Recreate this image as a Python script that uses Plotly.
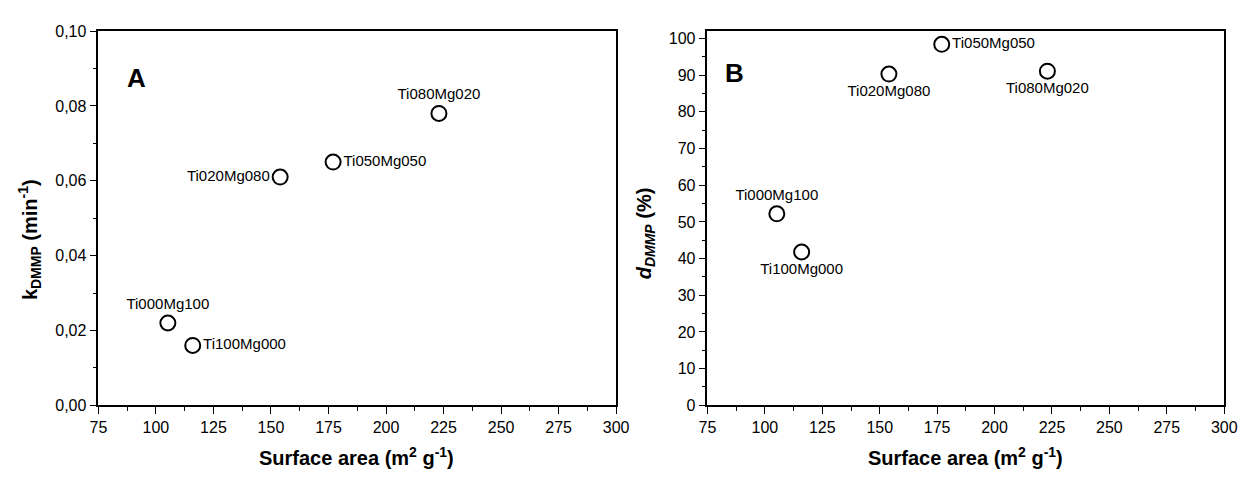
import plotly.graph_objects as go

samples = ["Ti000Mg100", "Ti100Mg000", "Ti020Mg080", "Ti050Mg050", "Ti080Mg020"]
surface_area = [105.2, 116.0, 154.0, 177.0, 223.0]
k_dmmp = [0.022, 0.016, 0.061, 0.065, 0.078]
d_dmmp = [52.2, 41.8, 90.3, 98.4, 91.1]

pos_a = ["top center", "middle right", "middle left", "middle right", "top center"]
pos_b = ["top center", "bottom center", "bottom center", "middle right", "bottom center"]

FONT = "Liberation Sans, Arial, sans-serif"

fig = go.Figure()
marker = dict(symbol="circle-open", size=15, color="black", line=dict(width=2, color="black"))
fig.add_trace(go.Scatter(x=surface_area, y=k_dmmp, mode="markers+text", text=samples,
                         textposition=pos_a, marker=marker, xaxis="x", yaxis="y",
                         textfont=dict(family=FONT, size=15, color="black"), showlegend=False))
fig.add_trace(go.Scatter(x=surface_area, y=d_dmmp, mode="markers+text", text=samples,
                         textposition=pos_b, marker=marker, xaxis="x2", yaxis="y2",
                         textfont=dict(family=FONT, size=15, color="black"), showlegend=False))

ydom = [0.140, 0.9499]
common = dict(showline=True, linecolor="black", linewidth=1.5, mirror=True, ticks="outside",
              ticklen=7, tickwidth=1.3, tickcolor="black", showgrid=False, zeroline=False,
              tickfont=dict(family=FONT, size=16, color="black"))
xcommon = dict(common, range=[75, 300], dtick=25, tick0=75,
               minor=dict(ticks="outside", ticklen=4, dtick=12.5, tickcolor="black", tickwidth=1.2))

fig.update_layout(
    width=1253, height=479, margin=dict(l=0, r=0, t=0, b=0),
    paper_bgcolor="white", plot_bgcolor="white", separators=",.",
    xaxis=dict(xcommon, domain=[0.0726, 0.4932], anchor="y"),
    yaxis=dict(common, domain=ydom, range=[0, 0.1], dtick=0.02, tickformat=".2f", anchor="x",
               minor=dict(ticks="outside", ticklen=4, dtick=0.01, tickcolor="black", tickwidth=1.2)),
    xaxis2=dict(xcommon, domain=[0.5674, 0.9872], anchor="y2"),
    yaxis2=dict(common, domain=ydom, range=[0, 102], dtick=10, tick0=0, anchor="x2",
                minor=dict(ticks="outside", ticklen=4, dtick=5, tickcolor="black", tickwidth=1.2)),
)

ann = []
title_font = dict(family=FONT, size=20, color="black")
xt = "<b>Surface area (m<sup>2</sup> g<sup>-1</sup>)</b>"
ann.append(dict(text=xt, x=354 / 1253, y=1 - 465 / 479, xref="paper", yref="paper",
                showarrow=False, font=title_font, xanchor="center", yanchor="middle"))
ann.append(dict(text=xt, x=974 / 1253, y=1 - 465 / 479, xref="paper", yref="paper",
                showarrow=False, font=title_font, xanchor="center", yanchor="middle"))
ann.append(dict(text="<b>k<sub>DMMP</sub> (min<sup>-1</sup>)</b>", x=21 / 1253, y=1 - 240 / 479,
                xref="paper", yref="paper", showarrow=False, textangle=-90, font=title_font,
                xanchor="center", yanchor="middle"))
ann.append(dict(text="<b><i>d</i><sub><i>DMMP</i></sub> (%)</b>", x=648 / 1253, y=1 - 234 / 479,
                xref="paper", yref="paper", showarrow=False, textangle=-90, font=title_font,
                xanchor="center", yanchor="middle"))
ann.append(dict(text="<b>A</b>", x=118 / 1253, y=1 - 55 / 479, xref="paper", yref="paper",
                showarrow=False, font=dict(family=FONT, size=26, color="black")))
ann.append(dict(text="<b>B</b>", x=738 / 1253, y=1 - 50 / 479, xref="paper", yref="paper",
                showarrow=False, font=dict(family=FONT, size=26, color="black")))
fig.update_layout(annotations=ann)

fig.write_html("out.html")
